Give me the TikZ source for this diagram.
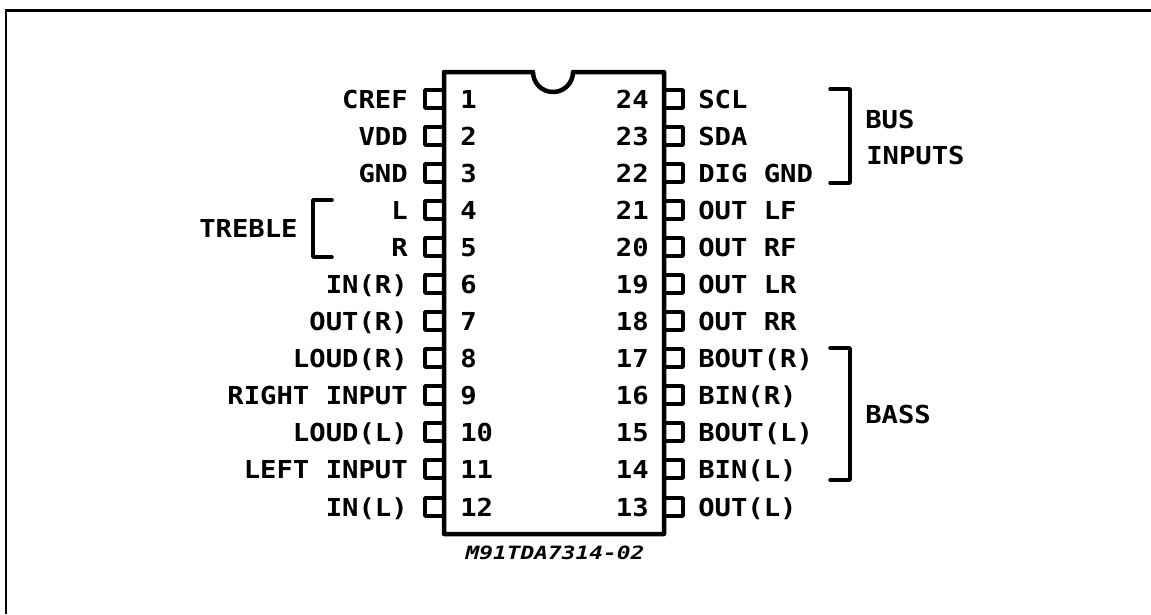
\documentclass[tikz,border=0pt]{standalone}
\usepackage{fontspec}
\setmonofont[FakeStretch=1.1]{DejaVu Sans Mono}
\newfontfamily\partfont[FakeStretch=1.25]{DejaVu Sans Mono}
\usetikzlibrary{positioning}

\begin{document}
\begin{tikzpicture}[x=0.025cm,y=-0.025cm,
	labelleft/.style={anchor=base east,inner sep=0pt,font=\ttfamily\bfseries\fontsize{17.6}{20}\selectfont},
	labelright/.style={anchor=base west,inner sep=0pt,font=\ttfamily\bfseries\fontsize{17.6}{20}\selectfont},
	pinbox/.style={line width=2.5pt,line join=round},
	bracket/.style={line width=2.5pt,line join=round,line cap=round}]

	\useasboundingbox (0,0) rectangle (1151,614);

	% outer frame, open on two sides
	\draw[line width=1.8pt] (6,614) -- (6,10.5) -- (1151,10.5);

	% pins on the left
	\draw[pinbox] (444,90) -- (425,90) -- (425,108) -- (444,108);
	\draw[pinbox] (444,127) -- (425,127) -- (425,145) -- (444,145);
	\draw[pinbox] (444,164) -- (425,164) -- (425,182) -- (444,182);
	\draw[pinbox] (444,201) -- (425,201) -- (425,219) -- (444,219);
	\draw[pinbox] (444,238) -- (425,238) -- (425,256) -- (444,256);
	\draw[pinbox] (444,275) -- (425,275) -- (425,293) -- (444,293);
	\draw[pinbox] (444,312) -- (425,312) -- (425,330) -- (444,330);
	\draw[pinbox] (444,349) -- (425,349) -- (425,367) -- (444,367);
	\draw[pinbox] (444,386) -- (425,386) -- (425,404) -- (444,404);
	\draw[pinbox] (444,423) -- (425,423) -- (425,441) -- (444,441);
	\draw[pinbox] (444,460) -- (425,460) -- (425,478) -- (444,478);
	\draw[pinbox] (444,498) -- (425,498) -- (425,516) -- (444,516);

	% pins on the right
	\draw[pinbox] (664,90) -- (683,90) -- (683,108) -- (664,108);
	\draw[pinbox] (664,127) -- (683,127) -- (683,145) -- (664,145);
	\draw[pinbox] (664,164) -- (683,164) -- (683,182) -- (664,182);
	\draw[pinbox] (664,201) -- (683,201) -- (683,219) -- (664,219);
	\draw[pinbox] (664,238) -- (683,238) -- (683,256) -- (664,256);
	\draw[pinbox] (664,275) -- (683,275) -- (683,293) -- (664,293);
	\draw[pinbox] (664,312) -- (683,312) -- (683,330) -- (664,330);
	\draw[pinbox] (664,349) -- (683,349) -- (683,367) -- (664,367);
	\draw[pinbox] (664,386) -- (683,386) -- (683,404) -- (664,404);
	\draw[pinbox] (664,423) -- (683,423) -- (683,441) -- (664,441);
	\draw[pinbox] (664,460) -- (683,460) -- (683,478) -- (664,478);
	\draw[pinbox] (664,498) -- (683,498) -- (683,516) -- (664,516);

	% package outline with notch
	\draw[line width=3.2pt,line join=round] (444,72) -- (533,72) arc (180:0:20) -- (664,72) -- (664,534) -- (444,534) -- cycle;

	% pin numbers
	\node[labelright] (n1) at (460,108) {1};
	\node[labelright] (n2) at (460,145) {2};
	\node[labelright] (n3) at (460,182) {3};
	\node[labelright] (n4) at (460,219) {4};
	\node[labelright] (n5) at (460,256) {5};
	\node[labelright] (n6) at (460,293) {6};
	\node[labelright] (n7) at (460,330) {7};
	\node[labelright] (n8) at (460,367) {8};
	\node[labelright] (n9) at (460,404) {9};
	\node[labelright] (n10) at (460,441) {10};
	\node[labelright] (n11) at (460,478) {11};
	\node[labelright] (n12) at (460,516) {12};

	\node[labelleft] (n24) at (649,108) {24};
	\node[labelleft] (n23) at (649,145) {23};
	\node[labelleft] (n22) at (649,182) {22};
	\node[labelleft] (n21) at (649,219) {21};
	\node[labelleft] (n20) at (649,256) {20};
	\node[labelleft] (n19) at (649,293) {19};
	\node[labelleft] (n18) at (649,330) {18};
	\node[labelleft] (n17) at (649,367) {17};
	\node[labelleft] (n16) at (649,404) {16};
	\node[labelleft] (n15) at (649,441) {15};
	\node[labelleft] (n14) at (649,478) {14};
	\node[labelleft] (n13) at (649,516) {13};

	% signal names
	\node[labelleft] (cref) at (408,108) {CREF};
	\node[labelleft] (vdd) at (408,145) {VDD};
	\node[labelleft] (gnd) at (408,182) {GND};
	\node[labelleft] (trebleL) at (408,219) {L};
	\node[labelleft] (trebleR) at (408,256) {R};
	\node[labelleft] (inR) at (408,293) {IN(R)};
	\node[labelleft] (outR) at (408,330) {OUT(R)};
	\node[labelleft] (loudR) at (408,367) {LOUD(R)};
	\node[labelleft] (rightin) at (408,404) {RIGHT INPUT};
	\node[labelleft] (loudL) at (408,441) {LOUD(L)};
	\node[labelleft] (leftin) at (408,478) {LEFT INPUT};
	\node[labelleft] (inL) at (408,516) {IN(L)};

	\node[labelright] (scl) at (698,108) {SCL};
	\node[labelright] (sda) at (698,145) {SDA};
	\node[labelright] (diggnd) at (698,182) {DIG GND};
	\node[labelright] (outLF) at (698,219) {OUT LF};
	\node[labelright] (outRF) at (698,256) {OUT RF};
	\node[labelright] (outLR) at (698,293) {OUT LR};
	\node[labelright] (outRR) at (698,330) {OUT RR};
	\node[labelright] (boutR) at (698,367) {BOUT(R)};
	\node[labelright] (binR) at (698,404) {BIN(R)};
	\node[labelright] (boutL) at (698,441) {BOUT(L)};
	\node[labelright] (binL) at (698,478) {BIN(L)};
	\node[labelright] (outL) at (698,516) {OUT(L)};

	% groups
	\draw[bracket] (332,200) -- (313,200) -- (313,257) -- (332,257);
	\node[labelright] (treble) at (199,237) {TREBLE};

	\draw[bracket] (830,89) -- (850,89) -- (850,183) -- (830,183);
	\node[labelright] (bus) at (865,128) {BUS};
	\node[labelright] (inputs) at (866,164) {INPUTS};

	\draw[bracket] (830,348) -- (850,348) -- (850,480) -- (830,480);
	\node[labelright] (bass) at (865,423) {BASS};

	\node[anchor=base,inner sep=0pt,font=\partfont\bfseries\itshape\fontsize{13}{15}\selectfont] (partno) at (555,559.5) {M91TDA7314-02};
\end{tikzpicture}
\end{document}
